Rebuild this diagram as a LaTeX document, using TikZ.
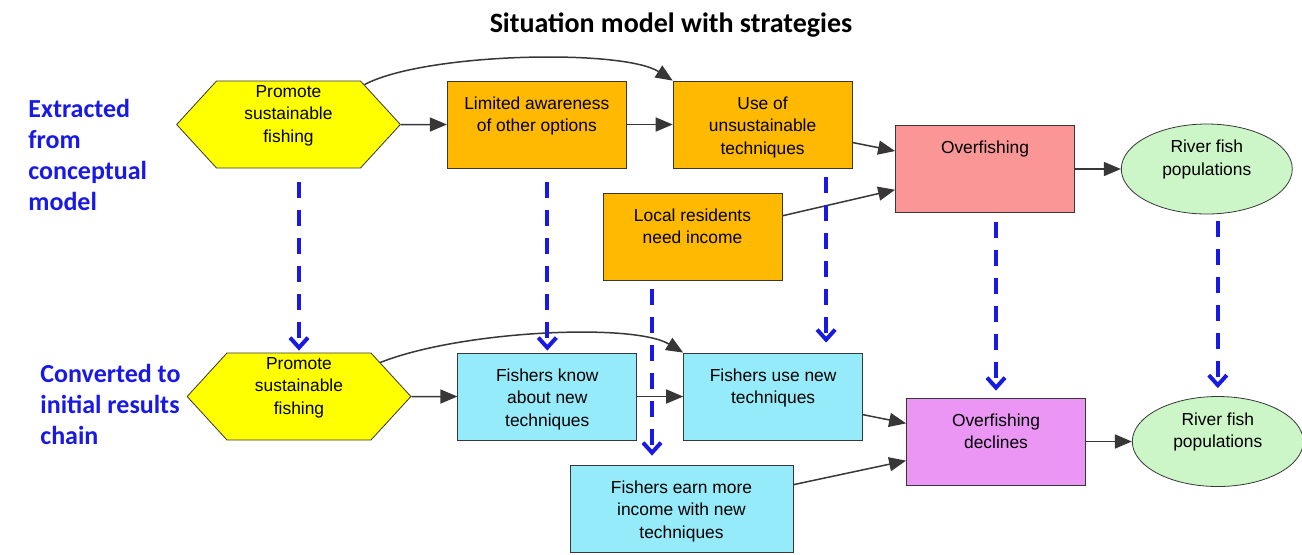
\documentclass[tikz,border=0pt]{standalone}
\usepackage{fontspec}
\setmainfont{Liberation Sans}
\newfontfamily\headfont{Carlito}
\usetikzlibrary{positioning, shapes.geometric, shapes.symbols, arrows.meta}

\definecolor{edge}{RGB}{55,55,55}
\definecolor{strategy}{RGB}{255,255,0}
\definecolor{factor}{RGB}{255,185,0}
\definecolor{threat}{RGB}{250,150,150}
\definecolor{target}{RGB}{204,245,200}
\definecolor{result}{RGB}{150,235,250}
\definecolor{reduction}{RGB}{235,150,245}
\definecolor{traceblue}{RGB}{25,25,230}

\begin{document}
\begin{tikzpicture}[x=0.5pt, y=-0.5pt,
     node distance = 23pt,
       inbox/.style n args = {3}{execute at begin node={\begin{minipage}[t][#2][t]{#1}\centering\vspace*{#3}},
                                 execute at end node={\end{minipage}}},
       plain/.style = {rectangle, draw=edge, minimum height=43.5pt,
                       inner sep=2pt, font=\fontsize{8.7}{11.25}\selectfont},
         box/.style = {plain, minimum width=89.5pt, inbox={85pt}{37pt}{4.5pt}},
        wbox/.style = {plain, minimum width=111.5pt, inbox={107pt}{37pt}{4.5pt}},
         hex/.style = {signal, signal to=east and west, signal from=nowhere, signal pointer angle=95,
                       draw=edge, fill=strategy, minimum width=111.5pt, minimum height=43.5pt,
                       inner sep=1pt, font=\fontsize{8.7}{11.25}\selectfont, inbox={70pt}{39pt}{0pt}},
        oval/.style = {ellipse, draw=edge, fill=target, minimum width=85.5pt, minimum height=45pt,
                       inner sep=0pt, font=\fontsize{8.7}{11.25}\selectfont, inbox={56pt}{30pt}{0.5pt}},
         lbl/.style = {anchor=west, align=left, inner sep=0pt, text=traceblue,
                       font=\headfont\bfseries\fontsize{13}{15.5}\selectfont},
        flow/.style = {draw=edge, line width=0.75pt, -{Triangle[length=8.5pt,width=7pt]}},
       trace/.style = {draw=traceblue, line width=2pt, dash pattern=on 8pt off 6pt,
                       -{Straight Barb[length=5pt,width=9pt]}}
                        ]
\useasboundingbox (0,0) rectangle (1302,554);

\node (title) [font=\headfont\bfseries\fontsize{14}{17}\selectfont] at (671,25) {Situation model with strategies};
\node (extracted) [lbl] at (28,155) {Extracted\\from\\conceptual\\model};
\node (converted) [lbl] at (40,404) {Converted to\\initial results\\chain};

% situation model
\node (hexA)     [hex] at (288.5,124.5) {Promote\\sustainable\\fishing};
\node (aware)    [box, fill=factor, right=of hexA] {Limited awareness\\of other options};
\node (unsust)   [box, fill=factor, right=of aware] {Use of\\unsustainable\\techniques};
\node (income)   [box, fill=factor] at (692.5,236.5) {Local residents\\need income};
\node (overfish) [box, fill=threat] at (985,169) {Overfishing};
\node (fishA)    [oval, right=of overfish] {River fish\\populations};

% results chain
\node (hexB)     [hex] at (299,396.5) {Promote\\sustainable\\fishing};
\node (know)     [box, fill=result, right=of hexB] {Fishers know\\about new\\techniques};
\node (use)      [box, fill=result, right=of know] {Fishers use new\\techniques};
\node (earn)     [wbox, fill=result] at (681.5,508.5) {Fishers earn more\\income with new\\techniques};
\node (decline)  [box, fill=reduction] at (996,441.5) {Overfishing\\declines};
\node (fishB)    [oval, right=of decline] {River fish\\populations};

\draw[flow] (hexA) -- (aware);
\draw[flow] (aware) -- (unsust);
\draw[flow] ([shift={(38pt,-2pt)}]hexA.north) .. controls +(30pt,16pt) and +(-25pt,16pt) .. (unsust.north west);
\draw[flow] (unsust) -- (overfish);
\draw[flow] (income) -- (overfish);
\draw[flow] (overfish) -- (fishA);

\draw[flow] (hexB) -- (know);
\draw[flow] (know) -- (use);
\draw[flow] ([shift={(40.5pt,-5pt)}]hexB.north) .. controls +(40pt,16pt) and +(-25pt,15pt) .. (use.north west);
\draw[flow] (use) -- (decline);
\draw[flow] (earn) -- (decline);
\draw[flow] (decline) -- (fishB);

% conversion
\draw[trace, shorten <=7pt, shorten >=1pt] (hexA.south -| hexB.north) -- (hexB.north);
\draw[trace, shorten <=7pt, shorten >=1pt] (aware.south -| know.north) -- (know.north);
\draw[trace, shorten <=4.5pt, shorten >=5pt] ([xshift=31.75pt]unsust.south) -- ([xshift=31.75pt]unsust.south |- use.north);
\draw[trace, shorten <=4.5pt, shorten >=4.5pt] ([xshift=-20.25pt]income.south) -- ([xshift=-20.25pt]income.south |- earn.north);
\draw[trace, shorten <=4.5pt, shorten >=3.5pt] (overfish.south -| decline.north) -- (decline.north);
\draw[trace, shorten <=3.5pt, shorten >=4pt] (fishA.south -| fishB.north) -- (fishB.north);
\end{tikzpicture}
\end{document}
